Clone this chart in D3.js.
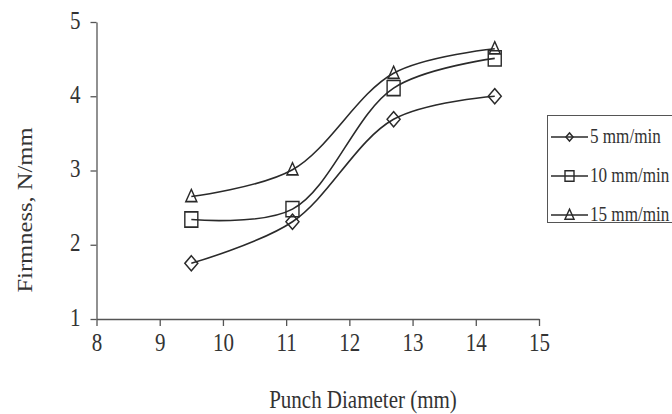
<!DOCTYPE html>
<html>
<head>
<meta charset="utf-8">
<script src="https://cdn.jsdelivr.net/npm/d3@7"></script>
<style>
    body { margin: 0; background: #fff; }
    text { font-family: "Liberation Serif", "Times New Roman", serif; fill: #333; }
</style>
</head>
<body>
<div id="chart"></div>
<script>
"use strict";

// punch diameters (mm) and firmness (N/mm) for each crosshead speed
const diameters = [9.5, 11.1, 12.7, 14.3];
const speed5 = [1.75, 2.31, 3.69, 4.0];
const speed10 = [2.34, 2.48, 4.11, 4.51];
const speed15 = [2.65, 3.01, 4.31, 4.64];
const seriesNames = ["5 mm/min", "10 mm/min", "15 mm/min"];
const xTicks = [8, 9, 10, 11, 12, 13, 14, 15];
const yTicks = [1, 2, 3, 4, 5];

const msm = {
    width: 672,
    height: 414,
    left: 96.5,
    right: 539,
    top: 22,
    bottom: 319
}
const stretch = 1.17; // the original picture is a little taller than wide
const ink = "#2a2a2a";

let svg = d3.select("#chart")
    .append("svg")
    .attr("width", msm.width)
    .attr("height", msm.height);

let xScale = d3.scaleLinear()
    .domain([8, 15])
    .range([msm.left, msm.right]);

let yScale = d3.scaleLinear()
    .domain([1, 5])
    .range([msm.bottom, msm.top]);

drawAxes();
let allSeries = [speed5, speed10, speed15];
let shapes = ["diamond", "square", "triangle"];
allSeries.forEach((s, i) => plotSeries(s, shapes[i]));
drawLegend();
drawLabels();

// marker outline of half-size r, stretched vertically like the source image
function markerPath(shape, r) {
    let p = d3.path();
    if (shape == "diamond") {
        p.moveTo(0, -r); p.lineTo(r, 0); p.lineTo(0, r); p.lineTo(-r, 0);
    } else if (shape == "square") {
        p.rect(-r, -r, 2 * r, 2 * r);
    } else {
        p.moveTo(0, -r * 1.1); p.lineTo(r, r * 0.8); p.lineTo(-r, r * 0.8);
    }
    p.closePath();
    return p.toString();
}

function marker(g, shape, x, y, r) {
    g.append("path")
        .attr("d", markerPath(shape, r))
        .attr("transform", "translate(" + x + "," + y + ") scale(1," + stretch + ")")
        .attr("fill", "none")
        .attr("stroke", ink)
        .attr("stroke-width", 1.4);
}

function plotSeries(values, shape) {
    let pts = diameters.map((d, i) => [xScale(d), yScale(values[i])]);
    svg.append("path")
        .datum(pts)
        .attr("fill", "none")
        .attr("stroke", ink)
        .attr("stroke-width", 1.6)
        .attr("d", d3.line().curve(d3.curveCatmullRom.alpha(0.5)));
    let g = svg.append("g");
    let r = { diamond: 6.5, square: 6.5, triangle: 5.5 }[shape];
    pts.forEach((p) => marker(g, shape, p[0], p[1], r));
}

function drawAxes() {
    let xAxis = d3.axisBottom(xScale).tickValues(xTicks).tickFormat(d3.format("d"))
        .tickSize(7).tickSizeOuter(0);
    let gx = svg.append("g")
        .attr("transform", "translate(0," + msm.bottom + ")")
        .call(xAxis);
    gx.selectAll("text")
        .attr("y", 0).attr("dy", 0)
        .attr("transform", "translate(0,32) scale(1," + stretch + ")")
        .style("font-size", "21px");

    let yAxis = d3.axisLeft(yScale).tickValues(yTicks).tickFormat(d3.format("d"))
        .tickSize(6).tickSizeOuter(0);
    let gy = svg.append("g")
        .attr("transform", "translate(" + msm.left + ",0)")
        .call(yAxis);
    gy.selectAll("text")
        .attr("x", 0).attr("dy", 0)
        .attr("transform", "translate(-16,6) scale(1," + stretch + ")")
        .style("font-size", "21px");

    svg.selectAll(".domain, .tick line")
        .attr("stroke", "#555")
        .attr("stroke-width", 1.3);
    svg.selectAll(".tick text").attr("fill", "#333").style("font-family", "Liberation Serif");
}

function drawLegend() {
    let lg = svg.append("g");
    lg.append("rect")
        .attr("x", 547.5).attr("y", 115.5)
        .attr("width", 140).attr("height", 107)
        .attr("fill", "none")
        .attr("stroke", "#555")
        .attr("stroke-width", 1);
    seriesNames.forEach((name, i) => {
        let y = 137 + i * 39;
        lg.append("line")
            .attr("x1", 551).attr("x2", 588)
            .attr("y1", y).attr("y2", y)
            .attr("stroke", ink)
            .attr("stroke-width", 1.5);
        marker(lg, shapes[i], 569.5, y, i == 0 ? 3.5 : 4.5);
        lg.append("text")
            .attr("transform", "translate(590," + (y + 5.5) + ") scale(0.95," + stretch + ")")
            .style("font-size", "18px")
            .text(name);
    });
}

function drawLabels() {
    svg.append("text")
        .attr("transform", "translate(363,408) scale(1," + stretch + ")")
        .attr("text-anchor", "middle")
        .style("font-size", "21px")
        .text("Punch Diameter (mm)");

    svg.append("text")
        .attr("transform", "translate(32,210) rotate(-90) scale(" + stretch + ",1)")
        .attr("text-anchor", "middle")
        .style("font-size", "21px")
        .text("Firmness, N/mm");
}
</script>
</body>
</html>
